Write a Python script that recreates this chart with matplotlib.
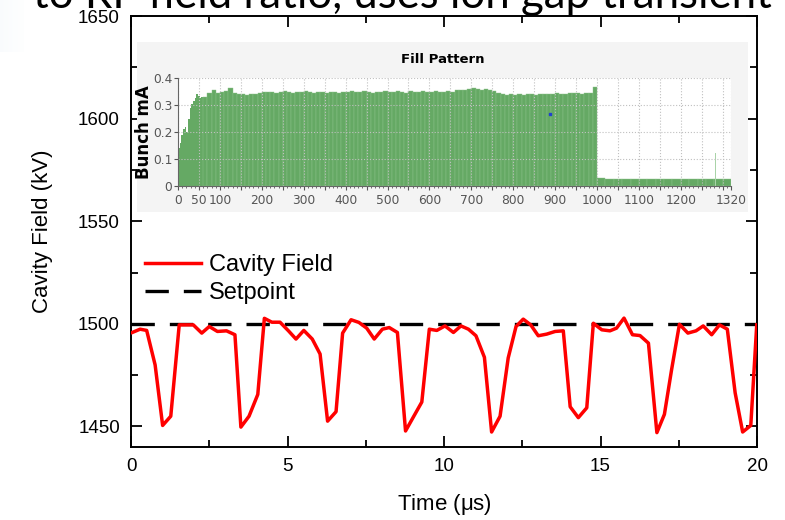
import numpy as np
import matplotlib.pyplot as plt
from matplotlib.ticker import MultipleLocator

# Cavity field vs time (us, kV)
t_us = [0.04, 0.29, 0.50, 0.77, 1.01, 1.27, 1.54, 1.99, 2.26, 2.50, 2.76, 3.05, 3.32, 3.51,
        3.77, 4.05, 4.26, 4.50, 4.76, 5.03, 5.27, 5.52, 5.79, 6.04, 6.28, 6.55, 6.76, 7.03,
        7.28, 7.53, 7.77, 8.03, 8.25, 8.51, 8.77, 9.02, 9.29, 9.53, 9.77, 10.03, 10.30,
        10.54, 10.78, 11.02, 11.29, 11.52, 11.79, 12.05, 12.30, 12.53, 12.77, 13.01, 13.28,
        13.55, 13.81, 14.03, 14.29, 14.56, 14.77, 15.04, 15.30, 15.51, 15.75, 16.02, 16.26,
        16.53, 16.80, 17.04, 17.27, 17.52, 17.79, 18.05, 18.28, 18.55, 18.80, 19.05, 19.30,
        19.54, 19.80, 19.99]
field_kv = [1495.8, 1497.4, 1496.8, 1480.0, 1450.5, 1455.0, 1499.5, 1499.5, 1495.5, 1498.7,
            1496.3, 1496.6, 1494.7, 1449.7, 1455.0, 1465.6, 1502.7, 1500.8, 1500.8, 1496.6,
            1492.6, 1496.8, 1492.6, 1485.3, 1452.6, 1457.2, 1495.5, 1502.0, 1500.7, 1497.9,
            1492.6, 1497.4, 1498.2, 1495.8, 1447.8, 1454.6, 1461.9, 1497.4, 1496.8, 1499.0,
            1495.8, 1499.0, 1497.4, 1494.2, 1483.7, 1447.3, 1455.0, 1483.4, 1498.7, 1502.3,
            1499.5, 1494.2, 1495.0, 1496.3, 1496.6, 1459.6, 1454.3, 1459.1, 1500.3, 1497.1,
            1496.6, 1497.9, 1502.8, 1494.7, 1494.3, 1490.6, 1447.0, 1455.9, 1477.7, 1499.8,
            1495.5, 1496.6, 1499.0, 1494.7, 1499.5, 1497.4, 1466.4, 1447.3, 1450.5, 1499.5]
setpoint_kv = 1500

# Fill pattern: bunch current (mA) in groups of bunches
ramp_start = [0, 4, 8, 12, 16, 20, 24, 28, 32, 36, 40, 44, 48, 52, 56]
ramp_ma = [0.14, 0.16, 0.19, 0.21, 0.22, 0.20, 0.25, 0.29, 0.305, 0.315, 0.325, 0.34,
           0.335, 0.325, 0.328]
train_ma = [0.330, 0.344, 0.356, 0.344, 0.348, 0.352, 0.362, 0.345, 0.340, 0.342,
            0.338, 0.341, 0.339, 0.343, 0.348, 0.347, 0.350, 0.346, 0.349, 0.351,
            0.348, 0.346, 0.350, 0.349, 0.352, 0.347, 0.345, 0.350, 0.348, 0.344,
            0.347, 0.349, 0.346, 0.350, 0.348, 0.351, 0.347, 0.349, 0.352, 0.348,
            0.346, 0.350, 0.349, 0.351, 0.347, 0.350, 0.352, 0.348, 0.346, 0.353,
            0.349, 0.347, 0.351, 0.348, 0.350, 0.352, 0.348, 0.350, 0.353, 0.349,
            0.355, 0.357, 0.354, 0.360, 0.362, 0.358, 0.356, 0.358, 0.355, 0.352,
            0.345, 0.340, 0.338, 0.339, 0.337, 0.340, 0.338, 0.339, 0.341, 0.338,
            0.340, 0.342, 0.339, 0.341, 0.343, 0.340, 0.342, 0.344, 0.343, 0.345,
            0.342, 0.344, 0.346, 0.366]
gap_ma = [0.028, 0.027, 0.027, 0.026, 0.027, 0.026, 0.027, 0.026, 0.026, 0.027, 0.026,
          0.025, 0.026, 0.025, 0.026, 0.025]
spike_bunch, spike_ma = 1282, 0.124
marker_bunch, marker_ma = 888, 0.267
fill_xticks = [0, 50, 100, 200, 300, 400, 500, 600, 700, 800, 900, 1000, 1100, 1200, 1320]

plt.rcParams['font.family'] = ['Liberation Sans', 'DejaVu Sans']

fig = plt.figure(figsize=(7.85, 5.2), dpi=100)

# faint blue slide edge in the top-left corner
bg = fig.add_axes([0, 0.9, 0.03, 0.1])
grad = np.linspace(0, 1, 50)[None, :] * np.ones((20, 1))
bg.imshow(grad, cmap='Blues_r', vmin=-4, vmax=1, aspect='auto', alpha=0.12)
bg.axis('off')

ax = fig.add_axes([0.1669, 0.1404, 0.7975, 0.8288])

ax.plot(t_us, field_kv, color='red', lw=2.5, label='Cavity Field', zorder=3)
ax.axhline(setpoint_kv, color='black', lw=2.4, ls=(0, (7, 4.5)), label='Setpoint', zorder=2)

ax.set_xlim(0, 20)
ax.set_ylim(1440, 1650)
ax.xaxis.set_major_locator(MultipleLocator(5))
ax.xaxis.set_minor_locator(MultipleLocator(2.5))
ax.yaxis.set_major_locator(MultipleLocator(50))
ax.yaxis.set_minor_locator(MultipleLocator(25))
ax.tick_params(which='both', direction='in', top=True, right=True, width=1.3,
               labelsize=13.5, pad=8)
ax.tick_params(which='major', length=8)
ax.tick_params(which='minor', length=5)
for s in ax.spines.values():
    s.set_linewidth(1.4)
ax.set_xlabel('Time ($\\mathregular{\\mu}$s)', fontsize=16, labelpad=12)
ax.set_ylabel('Cavity Field (kV)', fontsize=16, labelpad=18)

ax.legend(loc='upper left', bbox_to_anchor=(0.022, 0.447), frameon=False, fontsize=17,
          handlelength=2.4, handletextpad=0.3, labelspacing=0.25, borderpad=0,
          borderaxespad=0)

# Inset: fill pattern panel
panel = fig.add_axes([0.1745, 0.5923, 0.7783, 0.3269])
panel.set_facecolor('#f4f4f4')
panel.set_xticks([])
panel.set_yticks([])
for s in panel.spines.values():
    s.set_visible(False)
panel.text(0.5, 0.9, 'Fill Pattern', transform=panel.transAxes, ha='center', va='center',
           fontsize=9.5, fontweight='bold', family='DejaVu Sans')

ins = fig.add_axes([0.2268, 0.6423, 0.7045, 0.2077])
ins.set_facecolor('white')
green = '#65a964'
ins.bar(ramp_start, ramp_ma, width=4, align='edge', color=green, lw=0)
train_start = np.arange(60, 1000, 10)
ins.bar(train_start, train_ma, width=10, align='edge', color=green,
        edgecolor='#8cc28b', lw=0.3)
gap_start = np.arange(1000, 1320, 20)
ins.bar(gap_start, gap_ma, width=20, align='edge', color=green, edgecolor='#8cc28b', lw=0.3)
ins.bar([spike_bunch], [spike_ma], width=2, color='#a9d3a8', lw=0)
ins.plot([marker_bunch], [marker_ma], 's', ms=1.5, color='#2040d0')

ins.set_xlim(0, 1320)
ins.set_ylim(0, 0.4)
grid_x = list(range(0, 1320, 50)) + [1320]
ins.set_xticks(grid_x)
ins.set_xticklabels([str(v) if v in fill_xticks else '' for v in grid_x])
ins.xaxis.set_minor_locator(MultipleLocator(10))
ins.set_yticks([0, 0.1, 0.2, 0.3, 0.4])
ins.set_yticklabels(['0', '0.1', '0.2', '0.3', '0.4'])
ins.grid(True, which='major', ls=':', color='#c0c0c0', lw=0.8)
for lab in ins.get_xticklabels() + ins.get_yticklabels():
    lab.set_family('DejaVu Sans')
ins.tick_params(which='both', labelsize=8.8, labelcolor='#555555', color='#555555')
ins.tick_params(axis='x', pad=3)
ins.tick_params(axis='y', pad=1)
ins.tick_params(which='major', length=3)
ins.tick_params(which='minor', length=1.5)
for side in ('top', 'right'):
    ins.spines[side].set_visible(False)
for side in ('left', 'bottom'):
    ins.spines[side].set_color('#666666')
ins.set_ylabel('Bunch mA', fontsize=12, fontweight='bold', family='DejaVu Sans', labelpad=0)

# Clipped heading across the top edge
fig.text(33 / 785, 1 - 8 / 520, 'to RF field ratio, uses ion gap transient',
         ha='left', va='baseline', fontsize=31.5, family='Lato')

fig.savefig('out.png', dpi=100)
